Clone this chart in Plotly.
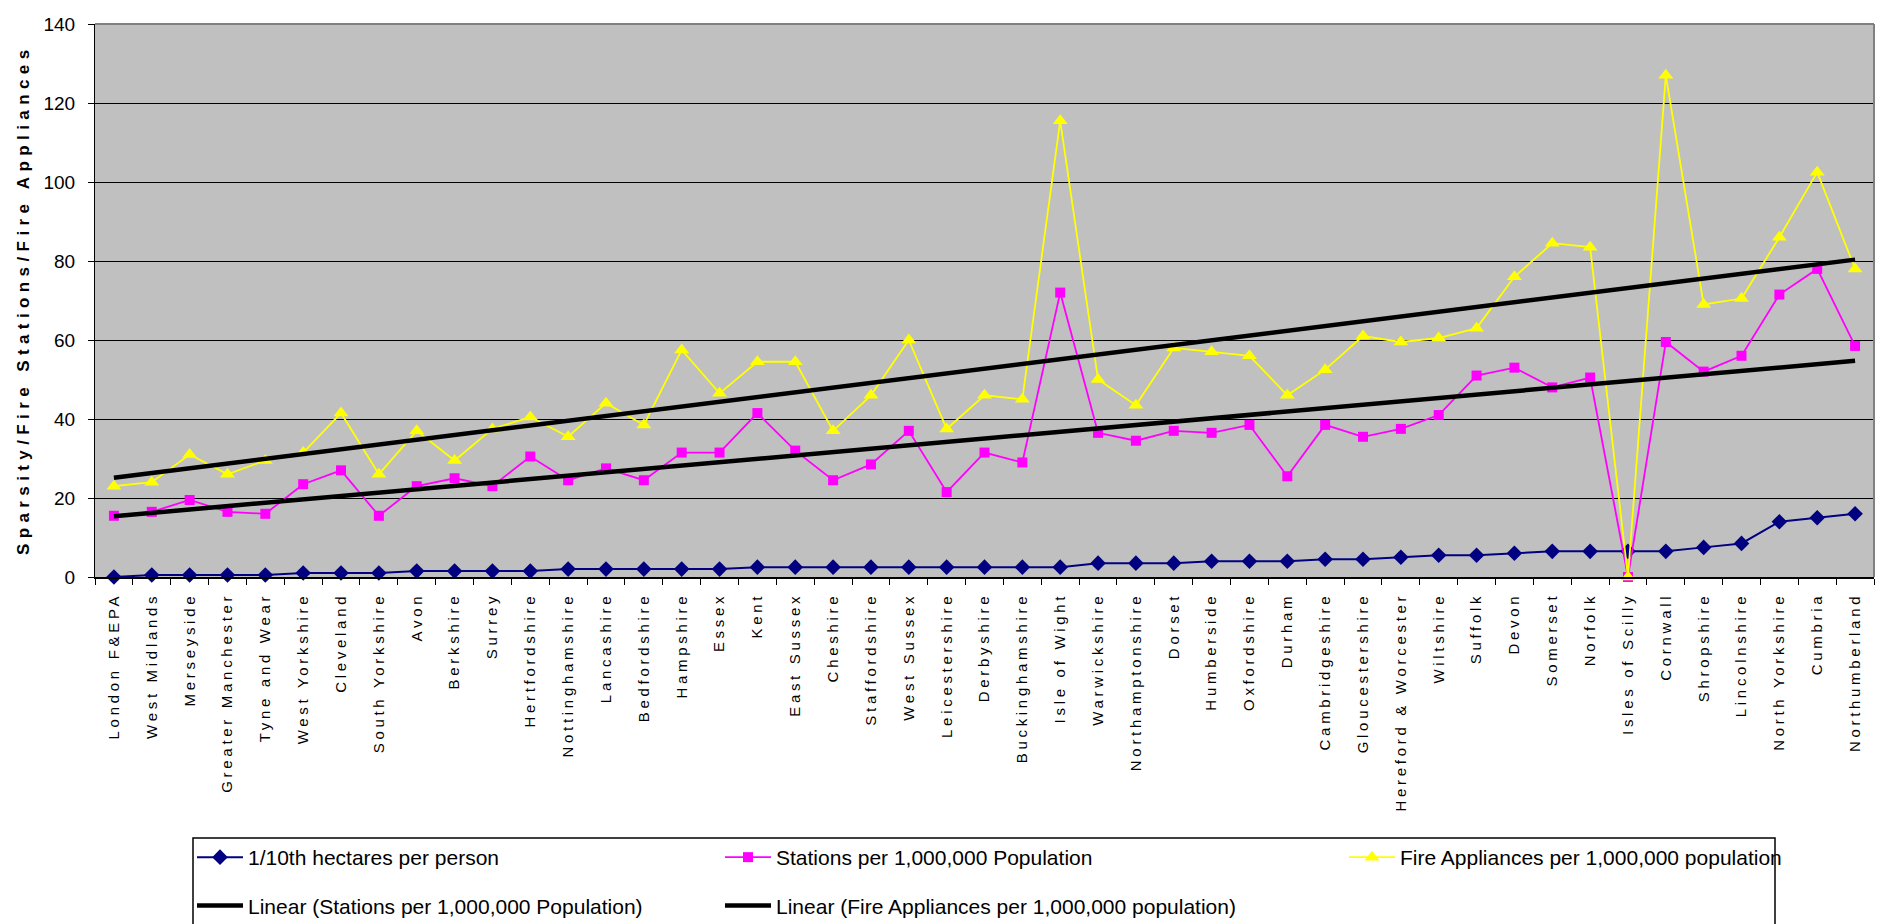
import numpy as np
import plotly.graph_objects as go

# Fire and rescue authorities, ordered by sparsity
authorities = [
    "London F&EPA", "West Midlands", "Merseyside", "Greater Manchester", "Tyne and Wear",
    "West Yorkshire", "Cleveland", "South Yorkshire", "Avon", "Berkshire", "Surrey",
    "Hertfordshire", "Nottinghamshire", "Lancashire", "Bedfordshire", "Hampshire", "Essex",
    "Kent", "East Sussex", "Cheshire", "Staffordshire", "West Sussex", "Leicestershire",
    "Derbyshire", "Buckinghamshire", "Isle of Wight", "Warwickshire", "Northamptonshire",
    "Dorset", "Humberside", "Oxfordshire", "Durham", "Cambridgeshire", "Gloucestershire",
    "Hereford & Worcester", "Wiltshire", "Suffolk", "Devon", "Somerset", "Norfolk",
    "Isles of Scilly", "Cornwall", "Shropshire", "Lincolnshire", "North Yorkshire",
    "Cumbria", "Northumberland",
]

# 1/10th hectares per person
sparsity = [
    0, 0.5, 0.5, 0.5, 0.5, 1, 1, 1, 1.5, 1.5, 1.5, 1.5, 2, 2, 2, 2, 2, 2.5, 2.5, 2.5,
    2.5, 2.5, 2.5, 2.5, 2.5, 2.5, 3.5, 3.5, 3.5, 4, 4, 4, 4.5, 4.5, 5, 5.5, 5.5, 6,
    6.5, 6.5, 6.5, 6.5, 7.5, 8.5, 14, 15, 16,
]

# Stations per 1,000,000 population
stations = [
    15.5, 16.5, 19.5, 16.5, 16, 23.5, 27, 15.5, 23, 25, 23, 30.5, 24.5, 27.5, 24.5,
    31.5, 31.5, 41.5, 32, 24.5, 28.5, 37, 21.5, 31.5, 29, 72, 36.5, 34.5, 37, 36.5,
    38.5, 25.5, 38.5, 35.5, 37.5, 41, 51, 53, 48, 50.5, 0, 59.5, 52, 56, 71.5, 78, 58.5,
]

# Fire appliances per 1,000,000 population
appliances = [
    23, 24, 31, 26, 29.5, 31.5, 41.5, 26, 37, 29.5, 37.5, 40.5, 35.5, 44, 38.5, 57.5,
    46.5, 54.5, 54.5, 37, 46, 60, 37.5, 46, 45, 115.5, 50, 43.5, 58, 57, 56, 46, 52.5,
    61, 59.5, 60.5, 63, 76, 84.5, 83.5, 0, 127, 69, 70.5, 86, 102.5, 78,
]

y_ticks = [0, 20, 40, 60, 80, 100, 120, 140]
y_title = "Sparsity/Fire Stations/Fire Appliances"

# Least-squares linear trends over the category index
idx = np.arange(len(authorities))
st_fit = np.polyval(np.polyfit(idx, stations, 1), idx)
ap_fit = np.polyval(np.polyfit(idx, appliances, 1), idx)

ARIAL = "Liberation Sans, Arial, sans-serif"

fig = go.Figure()

fig.add_trace(go.Scatter(
    x=authorities, y=sparsity, name="1/10th hectares per person",
    mode="lines+markers", line=dict(color="#000080", width=2),
    marker=dict(symbol="diamond", size=12, color="#000080"),
    cliponaxis=False, legend="legend", legendgroup="a",
))
fig.add_trace(go.Scatter(
    x=authorities, y=stations, name="Stations per 1,000,000 Population",
    mode="lines+markers", line=dict(color="#FF00FF", width=1.8),
    marker=dict(symbol="square", size=10, color="#FF00FF"),
    cliponaxis=False, legend="legend2", legendgroup="b",
))
fig.add_trace(go.Scatter(
    x=authorities, y=appliances, name="Fire Appliances per 1,000,000 population",
    mode="lines+markers", line=dict(color="#FFFF00", width=1.8),
    marker=dict(symbol="triangle-up", size=13, color="#FFFF00"),
    cliponaxis=False, legend="legend3", legendgroup="c",
))
fig.add_trace(go.Scatter(
    x=authorities, y=st_fit, name="Linear (Stations per 1,000,000 Population)",
    mode="lines", line=dict(color="black", width=4.5),
    legend="legend", legendgroup="d",
))
fig.add_trace(go.Scatter(
    x=authorities, y=ap_fit, name="Linear (Fire Appliances per 1,000,000 population)",
    mode="lines", line=dict(color="black", width=4.5),
    legend="legend2", legendgroup="e",
))

W, H = 1881, 924
ML, MR, MT, MB = 95, 7, 24, 347
PW, PH = W - ML - MR, H - MT - MB


def px_x(px):
    return (px - ML) / PW


def px_y(py):
    return (H - MB - py) / PH


legend_common = dict(
    font=dict(family=ARIAL, size=21, color="black"),
    bgcolor="rgba(0,0,0,0)", borderwidth=0,
    orientation="v", traceorder="grouped", tracegroupgap=18,
    xref="container", yref="container",
    xanchor="left", yanchor="top", itemwidth=46,
)
legend_top = 1 - 837 / H

fig.update_layout(
    width=W, height=H,
    margin=dict(l=ML, r=MR, t=MT, b=MB, autoexpand=False),
    paper_bgcolor="white",
    plot_bgcolor="#C0C0C0",
    showlegend=True,
    legend=dict(x=192 / W, y=legend_top, **legend_common),
    legend2=dict(x=720 / W, y=legend_top, **legend_common),
    legend3=dict(x=1344 / W, y=legend_top, **legend_common),
    xaxis=dict(
        type="category", range=[-0.5, len(authorities) - 0.5], automargin=False,
        tickangle=-90, tickson="boundaries", ticks="outside", ticklen=6,
        tickcolor="black", showgrid=False, showline=True, linecolor="black",
        linewidth=1.5, mirror=False, ticklabelstandoff=8,
        tickfont=dict(family=ARIAL, size=15, color="black"),
    ),
    yaxis=dict(
        range=[0, 140], tickvals=y_ticks, ticks="outside", ticklen=6, automargin=False,
        tickcolor="black", showgrid=True, gridcolor="black", gridwidth=1,
        showline=True, linecolor="black", linewidth=1, zeroline=False,
        ticklabelstandoff=9,
        tickfont=dict(family=ARIAL, size=19, color="black"),
    ),
    annotations=[
        dict(text=y_title, textangle=-90, xref="paper", yref="paper",
             x=px_x(23), y=0.5, xanchor="center", yanchor="middle", showarrow=False,
             font=dict(family=ARIAL, size=17, color="black", weight="bold")),
    ],
    shapes=[
        # grey plot frame on the top and right
        dict(type="line", xref="paper", yref="paper", x0=0, x1=1, y0=1, y1=1,
             line=dict(color="#808080", width=2)),
        dict(type="line", xref="paper", yref="paper", x0=1, x1=1, y0=0, y1=1,
             line=dict(color="#808080", width=2)),
        # legend frame
        dict(type="rect", xref="paper", yref="paper",
             x0=px_x(193), x1=px_x(1775), y0=px_y(838), y1=px_y(960),
             line=dict(color="black", width=1.5), fillcolor="rgba(0,0,0,0)"),
    ],
)

spacing_css = """
var s = document.createElement('style');
s.textContent = '.xtick text { letter-spacing: 3.7px; } .annotation-text { letter-spacing: 5.4px; }';
document.head.appendChild(s);
"""

fig.write_html("out.html", post_script=spacing_css)
